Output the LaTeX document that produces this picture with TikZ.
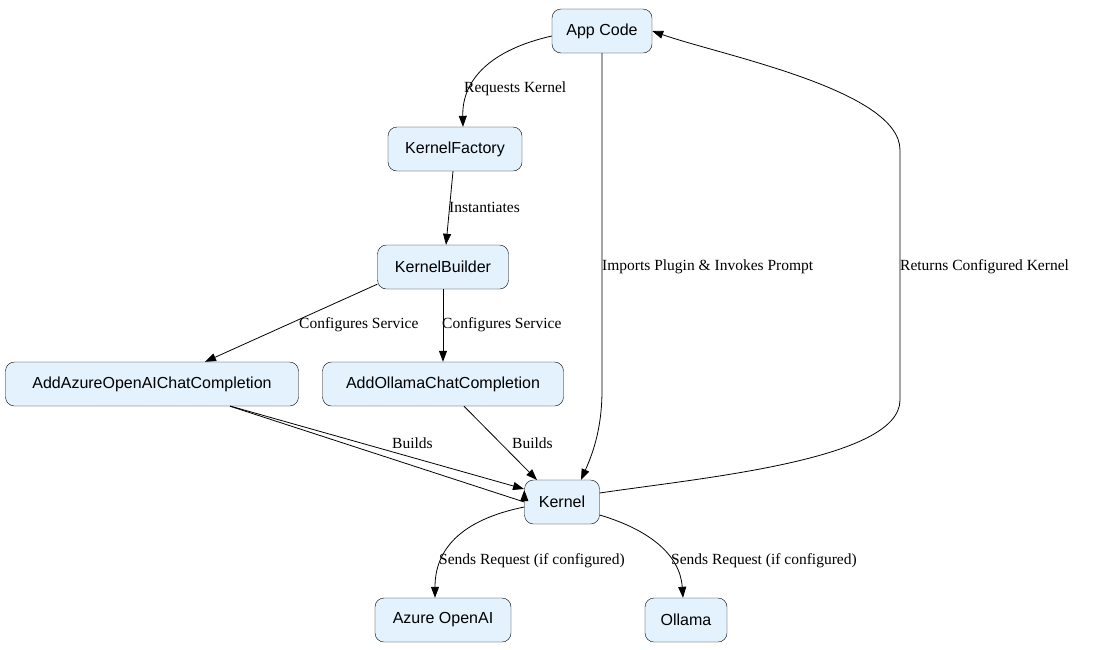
\documentclass[tikz,border=0pt]{standalone}
\usepackage{fontspec}
\setmainfont{Liberation Serif}
\newfontfamily\nodefont{Liberation Sans}
\usetikzlibrary{arrows.meta}
\definecolor{nodefill}{HTML}{E3F2FD}
\begin{document}
\begin{tikzpicture}[x=1pt,y=-1pt,
  box/.style={draw=black,fill=nodefill,rounded corners=9pt,minimum height=44pt,font=\nodefont\fontsize{16}{18}\selectfont,inner xsep=10pt},
  arr/.style={draw=black,line width=0.8pt,-{Triangle[length=11pt,width=8pt]}},
  lab/.style={font=\fontsize{15.5}{18}\selectfont,anchor=west,inner sep=1pt}]
\useasboundingbox (0,0) rectangle (1103,649);
\node[box,minimum width=100pt] (app) at (602,31) {App Code};
\node[box,minimum width=134pt] (kf) at (455,149) {KernelFactory};
\node[box,minimum width=131pt] (kb) at (443,267) {KernelBuilder};
\node[box,minimum width=293pt] (az) at (152,384) {AddAzureOpenAIChatCompletion};
\node[box,minimum width=241pt] (ol) at (443,384) {AddOllamaChatCompletion};
\node[box,minimum width=75pt] (k) at (562,502) {Kernel};
\node[box,minimum width=136pt] (aoi) at (443,620) {Azure OpenAI};
\node[box,minimum width=82pt] (oll) at (686,620) {Ollama};

\draw[arr] (app.west) ++(0,5) .. controls (490,50) and (462,80) .. (kf.north -| 463,0);
\node[lab] at (463,89) {Requests Kernel};
\draw[arr] (kf.south -| 453,0) -- (kb.north -| 446,0);
\node[lab] at (448,207) {Instantiates};
\draw[arr] (kb.south west) ++(0,-5) -- (az.north -| 205,0);
\node[lab] at (298,325) {Configures Service};
\draw[arr] (kb.south) -- (ol.north);
\node[lab] at (441,325) {Configures Service};
\draw[arr] (az.south -| 230,0) -- (k.west) ++(0,-12);
\draw[arr] (230,406) -- (524,489);
\node[lab] at (391,443) {Builds};
\draw[arr] (ol.south -| 464,0) -- (537,480);
\node[lab] at (511,443) {Builds};
\draw[arr] (app.south) -- (602,390) .. controls (602,430) and (592,455) .. (581,480);
\node[lab] at (601,267) {Imports Plugin \& Invokes Prompt};
\draw[arr] (k.east) ++(0,-9) .. controls (700,478) and (900,460) .. (900,400) -- (900,150) .. controls (900,90) and (720,55) .. (app.east);
\node[lab] at (899,267) {Returns Configured Kernel};
\draw[arr] (k.west) ++(0,5) .. controls (460,520) and (435,550) .. (aoi.north -| 435,0);
\node[lab] at (438,561) {Sends Request (if configured)};
\draw[arr] (k.east) ++(0,13) .. controls (650,530) and (680,555) .. (oll.north -| 683,0);
\node[lab] at (670,561) {Sends Request (if configured)};
\end{tikzpicture}
\end{document}
